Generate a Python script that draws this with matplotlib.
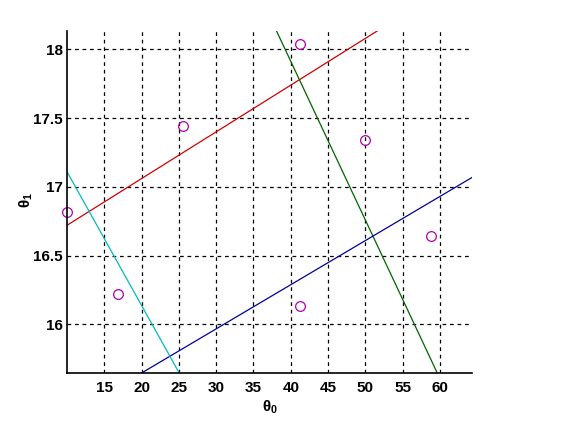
import matplotlib
matplotlib.use('Agg')
import matplotlib.pyplot as plt

# Data points (theta0, theta1)
theta0 = [10.0, 16.9, 25.6, 41.2, 50.0, 58.8, 41.3]
theta1 = [16.82, 16.22, 17.44, 18.04, 17.34, 16.64, 16.13]

# Line endpoints (theta0, theta1)
red_x = [10.0, 64.3]
red_y = [16.72, 18.565]
green_x = [38.09, 59.64]
green_y = [18.133, 15.646]
blue_x = [20.0, 64.3]
blue_y = [15.646, 17.068]
cyan_x = [10.0, 25.05]
cyan_y = [17.11, 15.646]

xticks = [15, 20, 25, 30, 35, 40, 45, 50, 55, 60]
yticks = [16, 16.5, 17, 17.5, 18]

plt.rcParams['font.family'] = ['Liberation Sans', 'DejaVu Sans']
plt.rcParams['mathtext.fontset'] = 'custom'
plt.rcParams['mathtext.rm'] = 'Liberation Sans'
plt.rcParams['mathtext.bf'] = 'Liberation Sans:bold'

fig = plt.figure(figsize=(5.61, 4.21), dpi=100)
ax = fig.add_axes([0.1194, 0.114, 0.722, 0.8124])

ax.plot(red_x, red_y, color='#d00000', lw=0.9)
ax.plot(green_x, green_y, color='#006400', lw=0.9)
ax.plot(blue_x, blue_y, color='#000099', lw=0.9)
ax.plot(cyan_x, cyan_y, color='#00bcbc', lw=0.9)
ax.plot(theta0, theta1, 'o', mfc='none', mec='#b000b0', ms=7, mew=0.9,
        clip_on=False)

ax.set_xlim(10, 64.3)
ax.set_ylim(15.646, 18.133)
ax.set_xticks(xticks)
ax.set_yticks(yticks)
ax.set_yticklabels(['16', '16.5', '17', '17.5', '18'])

ax.grid(True, color='black', linestyle=(0, (3, 3)), linewidth=0.9)
ax.spines['top'].set_visible(False)
ax.spines['right'].set_visible(False)
ax.spines['left'].set_linewidth(1.2)
ax.spines['bottom'].set_linewidth(1.2)
ax.tick_params(direction='in', length=0, labelsize=11)
ax.tick_params(axis='y', pad=3)
ax.tick_params(axis='x', pad=6)
for lab in ax.get_xticklabels() + ax.get_yticklabels():
    lab.set_fontweight('bold')

ax.set_xlabel(r'$\mathbf{\theta_0}$', fontsize=11)
ax.set_ylabel(r'$\mathbf{\theta_1}$', fontsize=11)
ax.xaxis.set_label_coords(0.5, -0.075)
ax.yaxis.set_label_coords(-0.08, 0.506)

fig.savefig('out.png', dpi=100)
